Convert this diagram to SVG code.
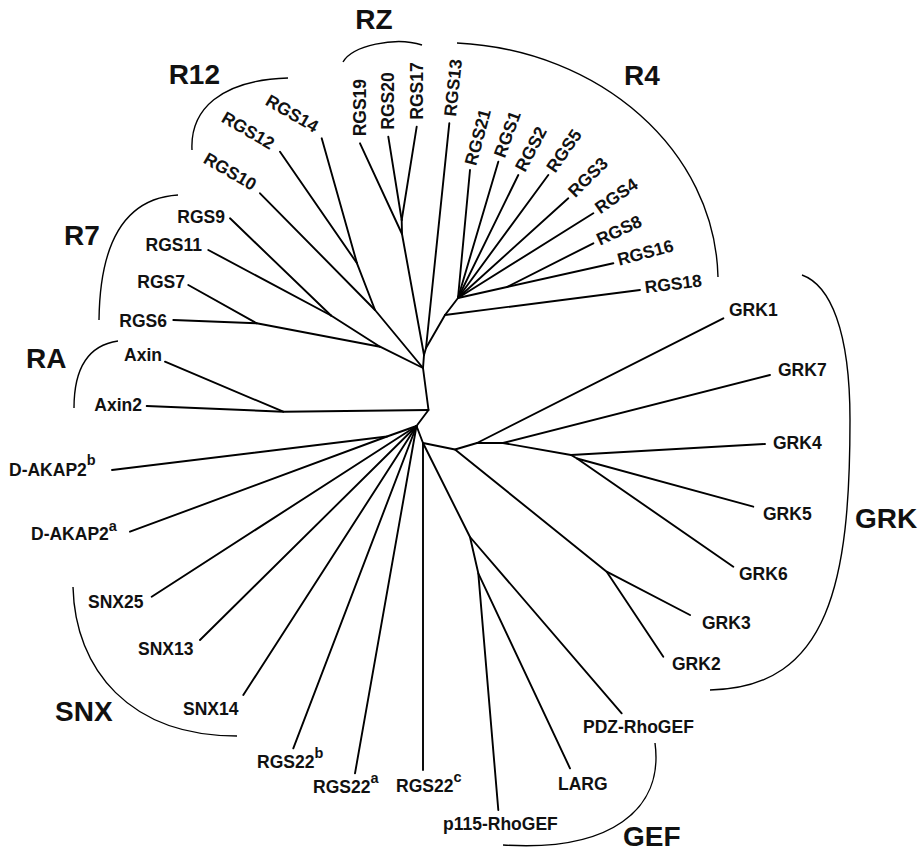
<svg xmlns="http://www.w3.org/2000/svg" width="922" height="851" viewBox="0 0 922 851">
<style>
.e{stroke:#000;stroke-width:1.9;fill:none;stroke-linecap:round;stroke-linejoin:round}
.a{stroke:#000;stroke-width:1.4;fill:none}
text{font-family:"Liberation Sans",Arial,sans-serif;font-weight:bold;fill:#111}
.l{font-size:17.5px}
.g{font-size:28px}
.s{font-size:14.5px}
</style>
<rect width="922" height="851" fill="#fff"/>
<g id="connectors">
<!-- backbone -->
<polyline class="e" points="424,355 423,368 428.5,410 416.5,426 423,443"/>
<!-- RZ -->
<polyline class="e" points="424,355 402,234 401.7,220"/>
<line class="e" x1="360" y1="143.3" x2="402" y2="234"/>
<line class="e" x1="388.3" y1="136.7" x2="401.7" y2="220"/>
<line class="e" x1="416.7" y1="126.7" x2="401.7" y2="220"/>
<!-- RGS13 / R4 -->
<polyline class="e" points="449.3,123.3 426,348 424,355"/>
<polyline class="e" points="426,348 445,315 458,298"/>
<line class="e" x1="640" y1="290" x2="445" y2="315"/>
<line class="e" x1="470" y1="170" x2="458" y2="298"/>
<line class="e" x1="498.3" y1="161.7" x2="458" y2="298"/>
<line class="e" x1="518.3" y1="175" x2="458" y2="298"/>
<line class="e" x1="548.3" y1="175" x2="458" y2="298"/>
<line class="e" x1="568.3" y1="198.3" x2="458" y2="298"/>
<line class="e" x1="593.3" y1="213.3" x2="458" y2="298"/>
<polyline class="e" points="613.3,263.3 507,287 458,298"/>
<line class="e" x1="593.3" y1="243.3" x2="507" y2="287"/>
<!-- R12 -->
<polyline class="e" points="423,368 375,310 260,193.3"/>
<line class="e" x1="375" y1="310" x2="357" y2="263.3"/>
<line class="e" x1="280" y1="151.7" x2="357" y2="263.3"/>
<line class="e" x1="321.7" y1="138.3" x2="357" y2="263.3"/>
<!-- R7 -->
<polyline class="e" points="423,368 380,346.7 256.7,323.3 173.3,320"/>
<line class="e" x1="188.3" y1="285" x2="256.7" y2="323.3"/>
<line class="e" x1="380" y1="346.7" x2="331" y2="315.5"/>
<line class="e" x1="230" y1="218.3" x2="331" y2="315.5"/>
<line class="e" x1="208.3" y1="250" x2="331" y2="315.5"/>
<!-- RA -->
<polyline class="e" points="428.5,410 283.3,411.7 146.7,406"/>
<line class="e" x1="165" y1="361.7" x2="283.3" y2="411.7"/>
<!-- D-AKAP2 / SNX / RGS22 -->
<polyline class="e" points="416.5,426 387,436.5 112,470"/>
<line class="e" x1="387" y1="436.5" x2="130" y2="531.7"/>
<line class="e" x1="416.5" y1="426" x2="151.7" y2="596.7"/>
<line class="e" x1="416.5" y1="426" x2="200" y2="640"/>
<line class="e" x1="416.5" y1="426" x2="243.3" y2="695"/>
<line class="e" x1="416.5" y1="426" x2="293.3" y2="748.3"/>
<line class="e" x1="416.5" y1="426" x2="355" y2="773.3"/>
<line class="e" x1="423" y1="443" x2="423" y2="770"/>
<!-- GEF -->
<polyline class="e" points="423,443 470,537 621.7,713.3"/>
<polyline class="e" points="470,537 478.3,573.3 570,768.3"/>
<line class="e" x1="478.3" y1="573.3" x2="498.3" y2="810"/>
<!-- GRK -->
<polyline class="e" points="423,443 455,449.5 477,443 503,443 571,455 765,444"/>
<line class="e" x1="477" y1="443" x2="723.3" y2="318.3"/>
<line class="e" x1="503" y1="443" x2="770" y2="375"/>
<polyline class="e" points="571,455 577,458.5 753.3,506.7"/>
<line class="e" x1="577" y1="458.5" x2="733.3" y2="566.7"/>
<polyline class="e" points="455,449.5 606.7,571.7 690,615"/>
<line class="e" x1="606.7" y1="571.7" x2="663.3" y2="656.7"/>
</g>
<g id="brackets">
<path id="arc-RZ" class="a" d="M343,62 C352,46 395,36 422,45"/>
<path id="arc-R12" class="a" d="M192,150 C190,110 220,80 288,78"/>
<path id="arc-R4" class="a" d="M457,43 C600,50 715,150 718,277"/>
<path id="arc-R7" class="a" d="M178,195 C130,198 100,235 99,320"/>
<path id="arc-RA" class="a" d="M118,341 C90,345 74,365 74,408"/>
<path id="arc-SNX" class="a" d="M73,587 C75,670 130,736 237,736"/>
<path id="arc-GEF" class="a" d="M655,743 C664,810 610,852 503,845"/>
<path id="arc-GRK" class="a" d="M802,275 C830,285 850,330 850,420 C850,580 830,688 710,690"/>
</g>
<g id="group-labels">
<text class="g" x="374" y="29" text-anchor="middle">RZ</text>
<text class="g" x="220" y="84" text-anchor="end">R12</text>
<text class="g" x="624" y="85">R4</text>
<text class="g" x="64" y="245">R7</text>
<text class="g" x="26" y="368">RA</text>
<text class="g" x="55" y="721">SNX</text>
<text class="g" x="623" y="846">GEF</text>
<text class="g" x="855" y="528">GRK</text>
</g>
<g id="n-RGS19"><text class="l" transform="translate(360,143.3) rotate(-90)" x="7" y="6">RGS19</text></g>
<g id="n-RGS20"><text class="l" transform="translate(388.3,136.7) rotate(-90)" x="7" y="6">RGS20</text></g>
<g id="n-RGS17"><text class="l" transform="translate(416.7,126.7) rotate(-90)" x="7" y="6">RGS17</text></g>
<g id="n-RGS13"><text class="l" transform="translate(449.3,123.3) rotate(-84)" x="7" y="6">RGS13</text></g>
<g id="n-RGS21"><text class="l" transform="translate(470,170) rotate(-75)" x="5" y="5">RGS21</text></g>
<g id="n-RGS1"><text class="l" transform="translate(498.3,161.7) rotate(-70)" x="5" y="5">RGS1</text></g>
<g id="n-RGS2"><text class="l" transform="translate(518.3,175) rotate(-62)" x="5" y="5">RGS2</text></g>
<g id="n-RGS5"><text class="l" transform="translate(548.3,175) rotate(-55)" x="5" y="5">RGS5</text></g>
<g id="n-RGS3"><text class="l" transform="translate(568.3,198.3) rotate(-45)" x="5" y="5">RGS3</text></g>
<g id="n-RGS4"><text class="l" transform="translate(593.3,213.3) rotate(-35)" x="5" y="5">RGS4</text></g>
<g id="n-RGS8"><text class="l" transform="translate(593.3,243.3) rotate(-25)" x="5" y="5">RGS8</text></g>
<g id="n-RGS16"><text class="l" transform="translate(613.3,263.3) rotate(-15)" x="5" y="4">RGS16</text></g>
<g id="n-RGS18"><text class="l" transform="translate(640,290) rotate(-7)" x="5" y="4">RGS18</text></g>
<g id="n-RGS14"><text class="l" transform="translate(314,133) rotate(30)" text-anchor="end">RGS14</text></g>
<g id="n-RGS12"><text class="l" transform="translate(270,150) rotate(30)" text-anchor="end">RGS12</text></g>
<g id="n-RGS10"><text class="l" transform="translate(252,191) rotate(30)" text-anchor="end">RGS10</text></g>
<g id="n-RGS9"><text class="l" x="225" y="223" text-anchor="end">RGS9</text></g>
<g id="n-RGS11"><text class="l" x="202" y="251" text-anchor="end">RGS11</text></g>
<g id="n-RGS7"><text class="l" x="185" y="288" text-anchor="end">RGS7</text></g>
<g id="n-RGS6"><text class="l" x="167" y="327" text-anchor="end">RGS6</text></g>
<g id="n-Axin"><text class="l" x="162" y="361" text-anchor="end">Axin</text></g>
<g id="n-Axin2"><text class="l" x="142" y="411" text-anchor="end">Axin2</text></g>
<g id="n-DAKAP2b"><text class="l" x="9" y="476">D-AKAP2<tspan class="s" dy="-11">b</tspan></text></g>
<g id="n-DAKAP2a"><text class="l" x="31" y="540">D-AKAP2<tspan class="s" dy="-9">a</tspan></text></g>
<g id="n-SNX25"><text class="l" x="88" y="608">SNX25</text></g>
<g id="n-SNX13"><text class="l" x="138" y="655">SNX13</text></g>
<g id="n-SNX14"><text class="l" x="183" y="715">SNX14</text></g>
<g id="n-RGS22b"><text class="l" x="257" y="768">RGS22<tspan class="s" dy="-10">b</tspan></text></g>
<g id="n-RGS22a"><text class="l" x="313" y="793">RGS22<tspan class="s" dy="-10">a</tspan></text></g>
<g id="n-RGS22c"><text class="l" x="396" y="792">RGS22<tspan class="s" dy="-10">c</tspan></text></g>
<g id="n-p115"><text class="l" x="443" y="830">p115-RhoGEF</text></g>
<g id="n-LARG"><text class="l" x="558" y="790">LARG</text></g>
<g id="n-PDZ"><text class="l" x="583" y="733">PDZ-RhoGEF</text></g>
<g id="n-GRK2"><text class="l" x="672" y="670">GRK2</text></g>
<g id="n-GRK3"><text class="l" x="702" y="629">GRK3</text></g>
<g id="n-GRK6"><text class="l" x="739" y="580">GRK6</text></g>
<g id="n-GRK5"><text class="l" x="763" y="520">GRK5</text></g>
<g id="n-GRK4"><text class="l" x="773" y="449">GRK4</text></g>
<g id="n-GRK7"><text class="l" x="778" y="376">GRK7</text></g>
<g id="n-GRK1"><text class="l" x="729" y="316">GRK1</text></g>
</svg>
